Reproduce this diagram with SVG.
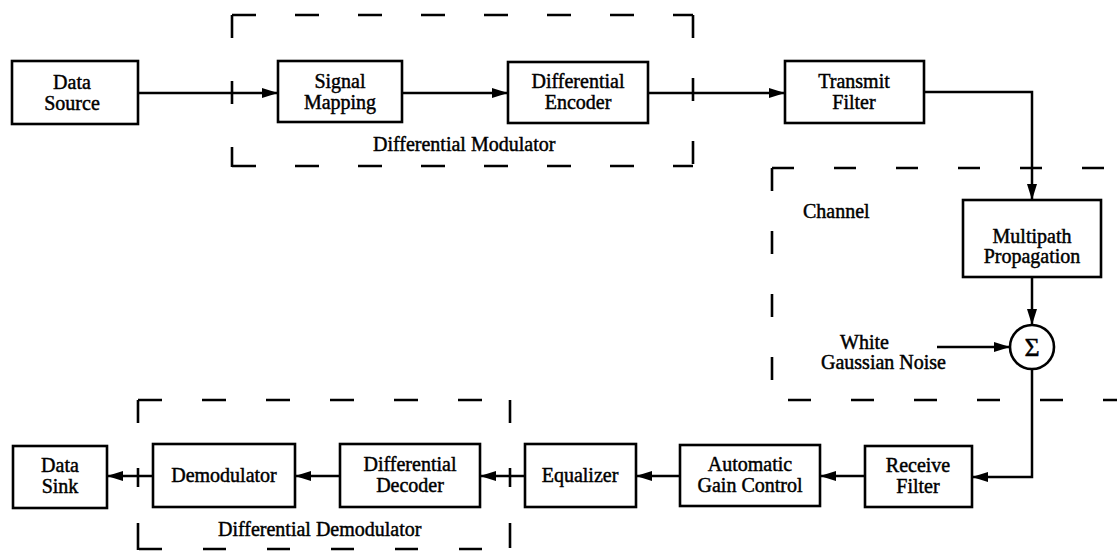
<svg xmlns="http://www.w3.org/2000/svg" width="1117" height="553" viewBox="0 0 1117 553">
<defs>
<marker id="arr" markerWidth="17" markerHeight="11" refX="16" refY="5.5" orient="auto" markerUnits="userSpaceOnUse">
<path d="M0,0.5 L16,5.5 L0,10.5 Z" fill="#000"/>
</marker>
<style>
.box{fill:#fff;stroke:#000;stroke-width:2.6}
.t{font-family:"Liberation Serif","Times New Roman",serif;font-size:20px;fill:#000;stroke:#000;stroke-width:0.45;text-anchor:middle}
.lbl{font-family:"Liberation Serif","Times New Roman",serif;font-size:20px;fill:#000;stroke:#000;stroke-width:0.45}
.c{fill:none;stroke:#000;stroke-width:2.5;marker-end:url(#arr)}
.d{fill:none;stroke:#000;stroke-width:2.6}
</style>
</defs>
<rect width="1117" height="553" fill="#fff"/>

<g id="group-modulator">
<line class="d" x1="232" y1="15" x2="693" y2="15" stroke-dasharray="24 39"/>
<line class="d" x1="232" y1="166" x2="693" y2="166" stroke-dasharray="24 39"/>
<line class="d" x1="232" y1="15" x2="232" y2="167" stroke-dasharray="23 43"/>
<line class="d" x1="693" y1="15" x2="693" y2="166" stroke-dasharray="23 40"/>
<text class="lbl" x="373" y="151">Differential Modulator</text>
</g>

<g id="group-channel">
<line class="d" x1="772" y1="168" x2="1117" y2="168" stroke-dasharray="22 40"/>
<line class="d" x1="772" y1="168" x2="772" y2="385" stroke-dasharray="23 40"/>
<line class="d" x1="788" y1="400" x2="1117" y2="400" stroke-dasharray="23 40"/>
<text class="lbl" x="803" y="218">Channel</text>
</g>

<g id="group-demodulator">
<line class="d" x1="138" y1="400" x2="510" y2="400" stroke-dasharray="24 40"/>
<line class="d" x1="139" y1="549" x2="482" y2="549" stroke-dasharray="23 41"/>
<line class="d" x1="138" y1="400" x2="138" y2="550" stroke-dasharray="23 45 19 36 27"/>
<line class="d" x1="510" y1="400" x2="510" y2="548" stroke-dasharray="23 45 19 36 25"/>
<text class="lbl" x="218" y="536">Differential Demodulator</text>
</g>

<g id="connectors">
<line class="c" x1="138" y1="93" x2="278" y2="93"/>
<line class="c" x1="402" y1="93" x2="508" y2="93"/>
<line class="c" x1="648" y1="93" x2="785" y2="93"/>
<polyline class="c" points="924,92 1032,92 1032,200"/>
<line class="c" x1="1032" y1="277" x2="1032" y2="325"/>
<line class="c" x1="937" y1="347" x2="1010" y2="347"/>
<polyline class="c" points="1032,369 1032,477 972,477"/>
<line class="c" x1="865" y1="476" x2="820" y2="476"/>
<line class="c" x1="680" y1="476" x2="636" y2="476"/>
<line class="c" x1="525" y1="476" x2="480" y2="476"/>
<line class="c" x1="340" y1="476" x2="295" y2="476"/>
<line class="c" x1="153" y1="476" x2="107" y2="476"/>
</g>

<g id="data-source">
<rect class="box" x="12" y="61" width="126" height="63"/>
<text class="t" x="72" y="89">Data</text>
<text class="t" x="72" y="110">Source</text>
</g>
<g id="signal-mapping">
<rect class="box" x="278" y="61" width="124" height="61"/>
<text class="t" x="340" y="88">Signal</text>
<text class="t" x="340" y="109">Mapping</text>
</g>
<g id="differential-encoder">
<rect class="box" x="508" y="62" width="140" height="61"/>
<text class="t" x="578" y="88">Differential</text>
<text class="t" x="578" y="109">Encoder</text>
</g>
<g id="transmit-filter">
<rect class="box" x="785" y="61" width="139" height="62"/>
<text class="t" x="854" y="88">Transmit</text>
<text class="t" x="854" y="109">Filter</text>
</g>
<g id="multipath-propagation">
<rect class="box" x="963" y="200" width="138" height="77"/>
<text class="t" x="1032" y="243">Multipath</text>
<text class="t" x="1032" y="263">Propagation</text>
</g>
<g id="sum">
<circle cx="1032" cy="347" r="22" fill="#fff" stroke="#000" stroke-width="2.6"/>
<text class="t" x="1032" y="356" style="font-size:26px">Σ</text>
</g>
<g id="noise">
<text class="lbl" x="840" y="349">White</text>
<text class="lbl" x="821" y="369">Gaussian Noise</text>
</g>
<g id="receive-filter">
<rect class="box" x="865" y="446" width="107" height="61"/>
<text class="t" x="918" y="472">Receive</text>
<text class="t" x="918" y="493">Filter</text>
</g>
<g id="automatic-gain-control">
<rect class="box" x="680" y="445" width="140" height="61"/>
<text class="t" x="750" y="471">Automatic</text>
<text class="t" x="750" y="492">Gain Control</text>
</g>
<g id="equalizer">
<rect class="box" x="525" y="444" width="111" height="63"/>
<text class="t" x="580" y="482">Equalizer</text>
</g>
<g id="differential-decoder">
<rect class="box" x="340" y="444" width="140" height="63"/>
<text class="t" x="410" y="471">Differential</text>
<text class="t" x="410" y="492">Decoder</text>
</g>
<g id="demodulator">
<rect class="box" x="153" y="444" width="142" height="63"/>
<text class="t" x="224" y="482">Demodulator</text>
</g>
<g id="data-sink">
<rect class="box" x="13" y="446" width="94" height="62"/>
<text class="t" x="60" y="472">Data</text>
<text class="t" x="60" y="493">Sink</text>
</g>
</svg>
